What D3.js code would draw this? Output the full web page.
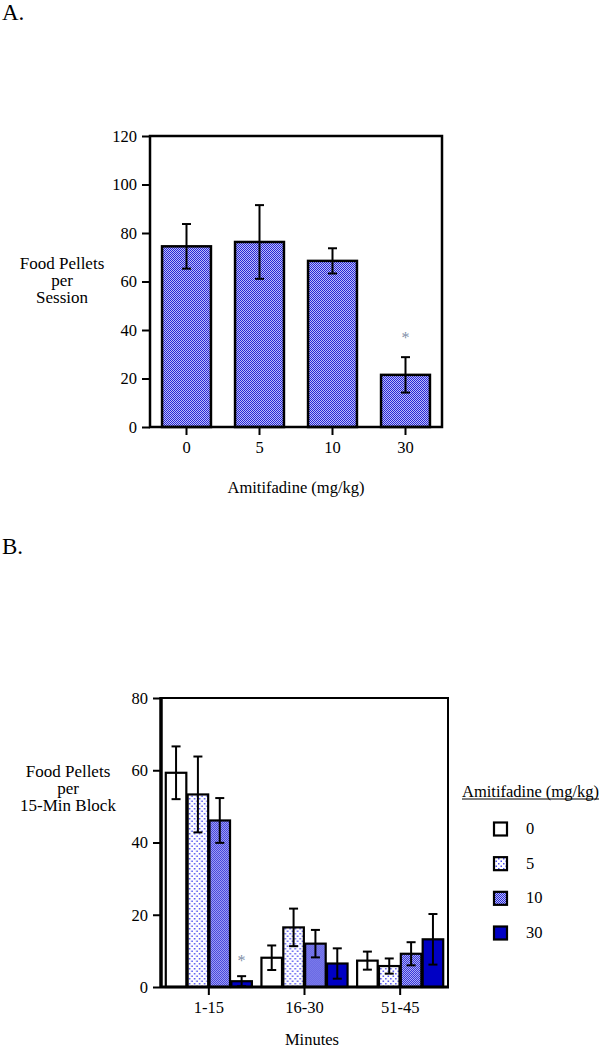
<!DOCTYPE html>
<html>
<head>
<meta charset="utf-8">
<script src="https://cdn.jsdelivr.net/npm/d3@7"></script>
<style>
  body { margin: 0; background: #fff; }
  svg text { font-family: "Liberation Serif", serif; }
</style>
</head>
<body>
<div id="chart"></div>
<script>
// panel A data
var dosesA = ["0", "5", "10", "30"];
var pelletsA = [74.5, 76.3, 68.5, 21.5];
var semA = [9.2, 15.2, 5.2, 7.3];
var starA = ["30"];
var ticksA = [0, 20, 40, 60, 80, 100, 120];

// panel B data
var blocksB = ["1-15", "16-30", "51-45"];
var dosesB = ["0", "5", "10", "30"];
var pelletsB = [
  [59.3, 53.3, 46.1, 1.6],
  [8.1, 16.5, 12.0, 6.5],
  [7.3, 5.8, 9.2, 13.2]
];
var semB = [
  [7.3, 10.5, 6.2, 1.4],
  [3.4, 5.2, 3.8, 4.2],
  [2.5, 2.1, 3.2, 7.0]
];
var starB = [["1-15", "30"]];
var ticksB = [0, 20, 40, 60, 80];

var W = 602, H = 1050;
var FS = 16.5;
var svg = d3.select('#chart').append('svg').attr('width', W).attr('height', H);

var defs = svg.append('defs');
// 10 mg/kg checker pattern
var p10 = defs.append('pattern').attr('id', 'pat10').attr('patternUnits', 'userSpaceOnUse')
  .attr('width', 2).attr('height', 2);
p10.append('rect').attr('width', 2).attr('height', 2).attr('fill', '#bcbcfa');
p10.append('rect').attr('width', 1).attr('height', 1).attr('fill', '#2828d4');
p10.append('rect').attr('x', 1).attr('y', 1).attr('width', 1).attr('height', 1).attr('fill', '#2828d4');
// 5 mg/kg dotted pattern
var p5 = defs.append('pattern').attr('id', 'pat5').attr('patternUnits', 'userSpaceOnUse')
  .attr('width', 5).attr('height', 5);
p5.append('rect').attr('width', 5).attr('height', 5).attr('fill', '#fff');
p5.append('rect').attr('x', 0.5).attr('y', 0.5).attr('width', 1.5).attr('height', 1.5).attr('fill', '#5050f0');
p5.append('rect').attr('x', 3).attr('y', 3).attr('width', 1.5).attr('height', 1.5).attr('fill', '#5050f0');

var fills = { "0": "#ffffff", "5": "url(#pat5)", "10": "url(#pat10)", "30": "#0000c4" };

function errorBar(g, cx, yTop, yHi, yLo, capW) {
  g.append('line').attr('x1', cx).attr('x2', cx).attr('y1', yHi).attr('y2', yLo)
    .attr('stroke', '#000').attr('stroke-width', 2);
  g.append('line').attr('x1', cx - capW / 2).attr('x2', cx + capW / 2).attr('y1', yHi).attr('y2', yHi)
    .attr('stroke', '#000').attr('stroke-width', 2);
  g.append('line').attr('x1', cx - capW / 2).attr('x2', cx + capW / 2).attr('y1', yLo).attr('y2', yLo)
    .attr('stroke', '#000').attr('stroke-width', 2);
}

function styleAxis(ax) {
  ax.attr('font-family', null);
  ax.select('.domain').remove();
  ax.selectAll('.tick line').attr('stroke', '#000').attr('stroke-width', 2);
  ax.selectAll('.tick text').attr('font-size', FS).attr('fill', '#000');
}

// ---------- panel A ----------
svg.append('text').attr('x', 2).attr('y', 20).attr('font-size', 23).text('A.');

var xA = d3.scaleBand().domain(dosesA).range([150, 442]).paddingInner(0.33).paddingOuter(0.165);
var yA = d3.scaleLinear().domain([0, 120]).range([427, 136]);

var gA = svg.append('g');
gA.selectAll('rect.bar').data(dosesA).enter().append('rect')
  .attr('class', 'bar')
  .attr('x', d => xA(d))
  .attr('y', (d, i) => yA(pelletsA[i]))
  .attr('width', xA.bandwidth())
  .attr('height', (d, i) => yA(0) - yA(pelletsA[i]))
  .attr('fill', 'url(#pat10)')
  .attr('stroke', '#000').attr('stroke-width', 2.5);

dosesA.forEach(function(d, i) {
  var cx = xA(d) + xA.bandwidth() / 2;
  errorBar(gA, cx, yA(pelletsA[i]), yA(pelletsA[i] + semA[i]), yA(pelletsA[i] - semA[i]), 9);
});
starA.forEach(function(d) {
  var i = dosesA.indexOf(d);
  gA.append('text').attr('x', xA(d) + xA.bandwidth() / 2).attr('y', yA(pelletsA[i] + semA[i]) - 14)
    .attr('text-anchor', 'middle').attr('font-size', 16).attr('fill', '#7f8fa8').text('*');
});

gA.append('rect').attr('x', 150).attr('y', 136).attr('width', 292).attr('height', 291)
  .attr('fill', 'none').attr('stroke', '#000').attr('stroke-width', 2.5);

var axYA = gA.append('g').attr('transform', 'translate(150,0)')
  .call(d3.axisLeft(yA).tickValues(ticksA).tickSize(8).tickPadding(5));
styleAxis(axYA);
var axXA = gA.append('g').attr('transform', 'translate(0,427)')
  .call(d3.axisBottom(xA).tickSize(8).tickPadding(6));
styleAxis(axXA);

var labA = gA.append('text').attr('text-anchor', 'middle').attr('font-size', 17);
['Food Pellets', 'per', 'Session'].forEach(function(t, i) {
  labA.append('tspan').attr('x', 62).attr('y', 269 + i * 17).text(t);
});
gA.append('text').attr('x', 296).attr('y', 493).attr('text-anchor', 'middle')
  .attr('font-size', FS).text('Amitifadine (mg/kg)');

// ---------- panel B ----------
svg.append('text').attr('x', 2).attr('y', 554).attr('font-size', 23).text('B.');

var x0 = d3.scaleBand().domain(blocksB).range([161, 448]).paddingInner(0.1).paddingOuter(0.05);
var x1 = d3.scaleBand().domain(dosesB).range([0, x0.bandwidth()]).paddingInner(0.06);
var yB = d3.scaleLinear().domain([0, 80]).range([987, 698]);

var gB = svg.append('g');
var grp = gB.selectAll('g.grp').data(blocksB).enter().append('g')
  .attr('class', 'grp').attr('transform', d => 'translate(' + x0(d) + ',0)');
grp.selectAll('rect').data((d, gi) => dosesB.map((k, i) => ({ k: k, v: pelletsB[gi][i] })))
  .enter().append('rect')
  .attr('x', d => x1(d.k))
  .attr('y', d => yB(d.v))
  .attr('width', x1.bandwidth())
  .attr('height', d => yB(0) - yB(d.v))
  .attr('fill', d => fills[d.k])
  .attr('stroke', '#000').attr('stroke-width', 2.2);

blocksB.forEach(function(b, gi) {
  dosesB.forEach(function(k, i) {
    var cx = x0(b) + x1(k) + x1.bandwidth() / 2;
    var v = pelletsB[gi][i], e = semB[gi][i];
    errorBar(gB, cx, yB(v), yB(v + e), yB(Math.max(0, v - e)), 9);
  });
});
starB.forEach(function(s) {
  var gi = blocksB.indexOf(s[0]), i = dosesB.indexOf(s[1]);
  gB.append('text').attr('x', x0(s[0]) + x1(s[1]) + x1.bandwidth() / 2)
    .attr('y', yB(pelletsB[gi][i] + semB[gi][i]) - 10)
    .attr('text-anchor', 'middle').attr('font-size', 16).attr('fill', '#7f8fa8').text('*');
});

gB.append('rect').attr('x', 161).attr('y', 698).attr('width', 287).attr('height', 289)
  .attr('fill', 'none').attr('stroke', '#000').attr('stroke-width', 2);
gB.append('line').attr('x1', 161).attr('x2', 161).attr('y1', 697).attr('y2', 988)
  .attr('stroke', '#000').attr('stroke-width', 3.5);
gB.append('line').attr('x1', 160).attr('x2', 449).attr('y1', 987).attr('y2', 987)
  .attr('stroke', '#000').attr('stroke-width', 3);

var axYB = gB.append('g').attr('transform', 'translate(160,0)')
  .call(d3.axisLeft(yB).tickValues(ticksB).tickSize(7).tickPadding(5));
styleAxis(axYB);
var axXB = gB.append('g').attr('transform', 'translate(0,987)')
  .call(d3.axisBottom(x0).tickSize(8).tickPadding(6));
styleAxis(axXB);

var labB = gB.append('text').attr('text-anchor', 'middle').attr('font-size', 17);
['Food Pellets', 'per', '15-Min Block'].forEach(function(t, i) {
  labB.append('tspan').attr('x', 68).attr('y', 777 + i * 17).text(t);
});
gB.append('text').attr('x', 312).attr('y', 1045).attr('text-anchor', 'middle')
  .attr('font-size', FS).text('Minutes');

// legend
var leg = svg.append('g');
var legTitle = leg.append('text').attr('x', 462).attr('y', 797).attr('font-size', FS)
  .text('Amitifadine (mg/kg)');
var tw = legTitle.node().getComputedTextLength();
leg.append('line').attr('x1', 462).attr('x2', 462 + tw).attr('y1', 799).attr('y2', 799)
  .attr('stroke', '#000').attr('stroke-width', 1.2);
var legY = d3.scalePoint().domain(dosesB).range([829, 933]);
dosesB.forEach(function(k) {
  leg.append('rect').attr('x', 494).attr('y', legY(k) - 6.5).attr('width', 13).attr('height', 13)
    .attr('fill', fills[k]).attr('stroke', '#000').attr('stroke-width', 2.2);
  leg.append('text').attr('x', 526).attr('y', legY(k) + 5).attr('font-size', FS).text(k);
});
</script>
</body>
</html>
